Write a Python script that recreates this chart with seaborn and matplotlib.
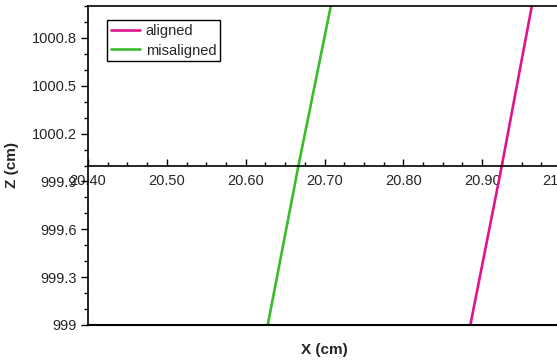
import matplotlib
matplotlib.use('Agg')
import matplotlib.pyplot as plt
import seaborn as sns
import numpy as np
import pandas as pd
from matplotlib.ticker import MultipleLocator, FuncFormatter

# values
z_cm = [999.0, 1000.0, 1001.0]
x_aligned = [20.885, 20.925, 20.963]
x_misaligned = [20.628, 20.667, 20.708]
series = ['aligned', 'misaligned']
colors = ['#e0158e', '#3cbc2c']

df = pd.concat([
    pd.DataFrame({'X': x_aligned, 'Z': z_cm, 'run': 'aligned'}),
    pd.DataFrame({'X': x_misaligned, 'Z': z_cm, 'run': 'misaligned'}),
])

sns.set_style('ticks')
plt.rcParams['font.family'] = ['Liberation Sans', 'DejaVu Sans']

fig = plt.figure(figsize=(5.57, 3.6), dpi=100)
ax = fig.add_axes([88 / 557, 35 / 360, (561 - 88) / 557, (325 - 6) / 360])

sns.lineplot(data=df, x='X', y='Z', hue='run', hue_order=series,
             palette=colors, sort=False, estimator=None, lw=1.9, ax=ax)

ax.set_xlim(20.40, 21.00)
ax.set_ylim(999, 1001)

# x axis sits at Z = 1000, frame line kept at the bottom
ax.spines['bottom'].set_position(('data', 1000))
ax.spines['right'].set_visible(False)
for s in ['left', 'bottom', 'top']:
    ax.spines[s].set_linewidth(1.2)
    ax.spines[s].set_color('black')
ax.axhline(999, color='black', lw=1.5, clip_on=False)

ax.xaxis.set_major_locator(MultipleLocator(0.1))
ax.xaxis.set_minor_locator(MultipleLocator(0.025))
ax.xaxis.set_major_formatter(FuncFormatter(lambda v, p: f'{v:.2f}'))
ax.yaxis.set_major_locator(MultipleLocator(0.3))
ax.yaxis.set_minor_locator(MultipleLocator(0.1))
ax.yaxis.set_major_formatter(FuncFormatter(lambda v, p: f'{round(v, 1):g}'))

ax.tick_params(axis='x', which='both', direction='in', labelsize=10.5, pad=6, color='black')
ax.tick_params(axis='x', which='major', length=5, width=1)
ax.tick_params(axis='x', which='minor', length=3, width=1)
ax.tick_params(axis='y', which='both', direction='out', labelsize=10.5, pad=3, color='black')
ax.tick_params(axis='y', which='major', length=5, width=1)
ax.tick_params(axis='y', which='minor', length=3, width=1)

ax.set_xlabel('X (cm)', fontsize=11, fontweight='bold')
ax.xaxis.set_label_coords(0.5, -0.055)
ax.set_ylabel('Z (cm)', fontsize=11, fontweight='bold')
ax.yaxis.set_label_coords(-0.145, 0.5)

leg = ax.legend(loc='upper left', bbox_to_anchor=(0.040, 0.956), borderaxespad=0,
                fontsize=10.5, frameon=True, fancybox=False, handlelength=2.0,
                borderpad=0.25, labelspacing=0.4, handletextpad=0.4)
leg.get_frame().set_edgecolor('black')
leg.get_frame().set_linewidth(1.0)
leg.get_frame().set_alpha(1)

fig.savefig('out.png', dpi=100)
